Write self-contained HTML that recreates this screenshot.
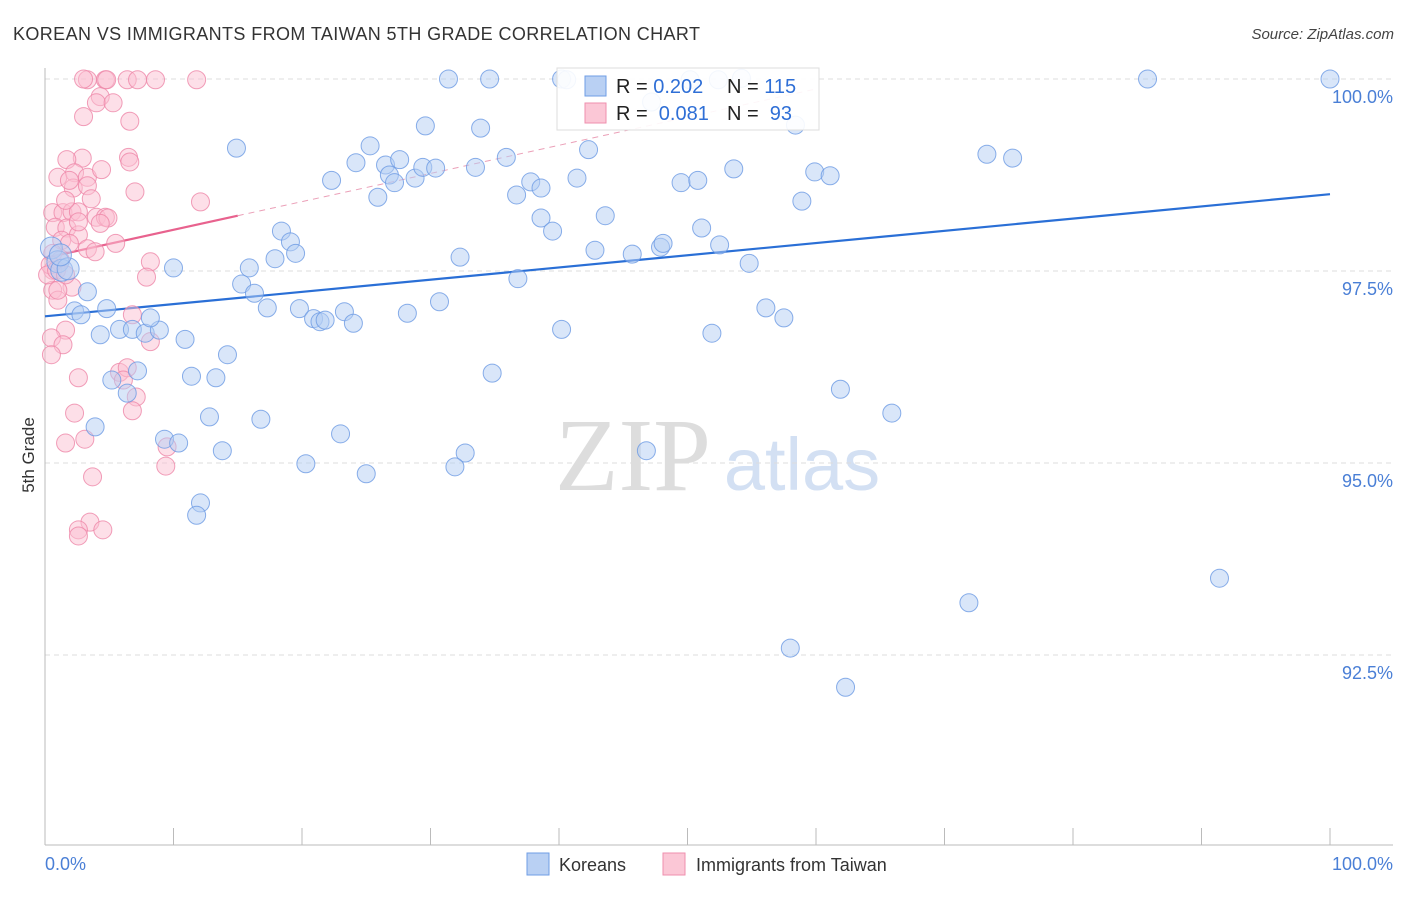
<!DOCTYPE html>
<html><head><meta charset="utf-8"><style>
body{margin:0;background:#fff;font-family:"Liberation Sans",sans-serif}
svg text{font-family:"Liberation Sans",sans-serif}
</style></head><body>
<svg id="chart" width="1406" height="892" viewBox="0 0 1406 892" xmlns="http://www.w3.org/2000/svg">
<text x="13" y="40" font-size="18" fill="#333" textLength="687">KOREAN VS IMMIGRANTS FROM TAIWAN 5TH GRADE CORRELATION CHART</text>
<text x="1394" y="39" font-size="15" fill="#444" font-style="italic" text-anchor="end">Source: ZipAtlas.com</text>
<g>
<text x="633" y="490" font-size="104" fill="#ddd" text-anchor="middle" font-family="Liberation Serif" style="font-family:'Liberation Serif',serif">ZIP</text>
<text x="802" y="490" font-size="74" fill="#d3e0f3" text-anchor="middle">atlas</text>
</g>
<g id="grid"></g>
<g id="axes"></g>
<g id="trends"></g>
<g id="points"></g>
<text transform="translate(34,455) rotate(-90)" font-size="17" fill="#333" text-anchor="middle">5th Grade</text>
<g>
<rect x="557" y="68" width="262" height="62" fill="#fff" fill-opacity="0.9" stroke="#ddd"/>
<rect x="585" y="76" width="21" height="20" fill="#b9d0f3" stroke="#6f9ee6"/>
<rect x="585" y="103" width="21" height="20" fill="#fbc7d6" stroke="#ef8fae"/>
<text x="616" y="93" font-size="20" fill="#222">R = <tspan fill="#2f6fd6">0.202</tspan></text>
<text x="727" y="93" font-size="20" fill="#222">N = <tspan fill="#2f6fd6">115</tspan></text>
<text x="616" y="120" font-size="20" fill="#222">R = <tspan fill="#2f6fd6">&#160;0.081</tspan></text>
<text x="727" y="120" font-size="20" fill="#222">N = <tspan fill="#2f6fd6">&#160;93</tspan></text>
</g>
<g>
<rect x="527" y="853" width="22" height="22" fill="#b9d0f3" stroke="#6f9ee6"/>
<text x="559" y="871" font-size="18" fill="#333">Koreans</text>
<rect x="663" y="853" width="22" height="22" fill="#fbc7d6" stroke="#ef8fae"/>
<text x="696" y="871" font-size="18" fill="#333">Immigrants from Taiwan</text>
</g>
</svg>
<script>
const yTicks=[100,97.5,95,92.5];
const yTickLabels=["100.0%","97.5%","95.0%","92.5%"];
const xTickVals=[0,10,20,30,40,50,60,70,80,90,100];
const xEndLabels=["0.0%","100.0%"];
const blueX=[0.5,1.0,1.3,1.8,1.2,3.3,2.3,2.8,4.8,4.3,5.8,6.8,7.8,8.9,8.2,7.2,5.2,6.4,10.0,10.9,11.4,13.3,14.2,14.9,15.9,15.3,16.3,17.3,17.9,18.4,19.1,19.5,19.8,20.9,21.4,21.8,23.3,24.0,20.3,23.0,25.0,22.3,24.2,25.3,25.9,26.5,26.8,27.2,27.6,28.8,29.4,30.4,29.6,28.2,30.7,32.3,33.5,33.9,34.8,35.9,36.7,36.8,37.8,38.6,38.6,39.5,40.2,41.4,42.3,42.8,43.6,45.7,47.2,47.9,48.1,49.5,50.8,51.1,51.9,52.5,53.6,54.8,56.1,57.5,58.9,59.9,61.1,61.9,65.9,73.3,75.3,32.7,31.9,13.8,12.8,16.8,12.1,11.8,3.9,9.3,10.4,46.8,31.4,34.6,40.2,40.6,50.2,54.2,52.4,58.4,85.8,100,91.4,71.9,58.0,62.3];
const blueY=[97.80,97.62,97.51,97.53,97.71,97.23,96.98,96.93,97.01,96.67,96.74,96.74,96.69,96.73,96.89,96.20,96.08,95.91,97.54,96.61,96.13,96.11,96.41,99.10,97.54,97.33,97.21,97.02,97.66,98.02,97.88,97.73,97.01,96.88,96.84,96.86,96.97,96.82,94.99,95.38,94.86,98.68,98.91,99.13,98.46,98.88,98.75,98.65,98.95,98.71,98.85,98.84,99.39,96.95,97.10,97.68,98.85,99.36,96.17,98.98,98.49,97.40,98.66,98.58,98.19,98.02,96.74,98.71,99.08,97.77,98.22,97.72,99.70,97.81,97.86,98.65,98.68,98.06,96.69,97.84,98.83,97.60,97.02,96.89,98.41,98.79,98.74,95.96,95.65,99.02,98.97,95.13,94.95,95.16,95.60,95.57,94.48,94.32,95.47,95.31,95.26,95.16,100,100,100,99.99,99.99,100.01,99.99,99.40,100,100,93.50,93.18,92.59,92.08];
const pinkX=[3.3,3.0,4.7,4.8,6.4,7.2,8.6,11.8,4.3,4.0,5.3,3.0,6.6,6.5,6.6,2.9,1.7,1.0,2.3,3.3,2.2,3.3,4.4,3.6,7.0,12.1,0.6,1.4,2.1,2.6,4.0,4.7,4.9,0.8,1.7,2.6,1.3,1.9,3.3,5.5,0.6,1.2,0.6,2.1,0.6,1.0,8.2,7.9,6.8,8.2,1.6,0.5,1.4,0.5,2.6,5.8,6.4,6.1,7.1,6.8,2.3,3.1,1.6,9.5,9.4,3.7,3.5,2.6,4.5,2.6,0.4,0.2,0.9,1.6,3.9,2.6,1.6,4.3,1.9,1.0];
const pinkY=[99.99,100,99.99,99.99,99.99,99.99,99.99,99.99,99.77,99.69,99.69,99.51,99.45,98.98,98.92,98.97,98.95,98.72,98.78,98.72,98.58,98.61,98.82,98.44,98.53,98.40,98.26,98.26,98.27,98.27,98.20,98.20,98.19,98.07,98.06,97.97,97.90,97.86,97.79,97.86,97.73,97.64,97.51,97.29,97.25,97.12,97.62,97.42,96.93,96.58,96.73,96.63,96.54,96.41,96.11,96.18,96.24,96.08,95.86,95.68,95.65,95.31,95.26,95.21,94.96,94.82,94.23,94.13,94.13,94.05,97.58,97.45,97.51,97.45,97.75,98.14,98.42,98.12,98.68,97.25];
const blueTrend=[96.91,98.50];   // y at x=0 and x=100
const pinkTrend=[97.67,98.22];   // y at x=0 and x=15
const NS="http://www.w3.org/2000/svg";
const X0=45,X1=1330,YTOP=79,PX_PER=76.8,YBOT=845;
function sx(v){return X0+(v/100)*(X1-X0);}
function sy(v){return YTOP+(100-v)*PX_PER;}
function mk(tag,attrs,parent){const e=document.createElementNS(NS,tag);for(const k in attrs)e.setAttribute(k,attrs[k]);document.getElementById(parent).appendChild(e);return e;}
yTicks.forEach((t,i)=>{
  const l=mk('line',{x1:X0,x2:1393,y1:sy(t),y2:sy(t),stroke:'#ddd','stroke-dasharray':'5,4'},'grid');
  
  
  const tx=mk('text',{x:1393,y:sy(t)+24,'font-size':18,fill:'#4a7fd6','text-anchor':'end'},'grid');
  tx.textContent=yTickLabels[i];
  
  
});
const ya=mk('line',{x1:X0,x2:X0,y1:68,y2:YBOT,stroke:'#bbb'},'axes');


const xa=mk('line',{x1:X0,x2:1393,y1:YBOT,y2:YBOT,stroke:'#bbb'},'axes');


xTickVals.forEach(v=>{
  const t=mk('line',{x1:sx(v),x2:sx(v),y1:828,y2:YBOT,stroke:'#bbb'},'axes');
  
  
});
const xl0=mk('text',{x:45,y:870,'font-size':18,fill:'#4a7fd6'},'axes');
xl0.textContent=xEndLabels[0];


const xl1=mk('text',{x:1393,y:870,'font-size':18,fill:'#4a7fd6','text-anchor':'end'},'axes');
xl1.textContent=xEndLabels[1];


function dot(x,y,fill,stroke,r){
  const c=mk('circle',{cx:sx(x),cy:sy(y),r:r,fill:fill,'fill-opacity':0.5,stroke:stroke,'stroke-opacity':0.8,'stroke-width':1},'points');
  return c;
}
pinkX.forEach((x,i)=>{
  const c=dot(x,pinkY[i],'#fbc0d2','#ee86a8',9);
  
  
});
blueX.forEach((x,i)=>{
  const c=dot(x,blueY[i],'#b3cdf3','#6b9ae3',i<5?11:9);
  
  
});
const bt=mk('line',{x1:sx(0),y1:sy(blueTrend[0]),x2:sx(100),y2:sy(blueTrend[1]),stroke:'#2a6fd6','stroke-width':2.2},'trends');


const slope=(pinkTrend[1]-pinkTrend[0])/15;
const pt=mk('line',{x1:sx(0),y1:sy(pinkTrend[0]),x2:sx(15),y2:sy(pinkTrend[1]),stroke:'#e8628e','stroke-width':2.2},'trends');


const pd=mk('line',{x1:sx(15),y1:sy(pinkTrend[1]),x2:sx(60),y2:sy(pinkTrend[0]+slope*60),stroke:'#eba0b8','stroke-width':1,'stroke-dasharray':'6,5'},'trends');


</script>
</body></html>
